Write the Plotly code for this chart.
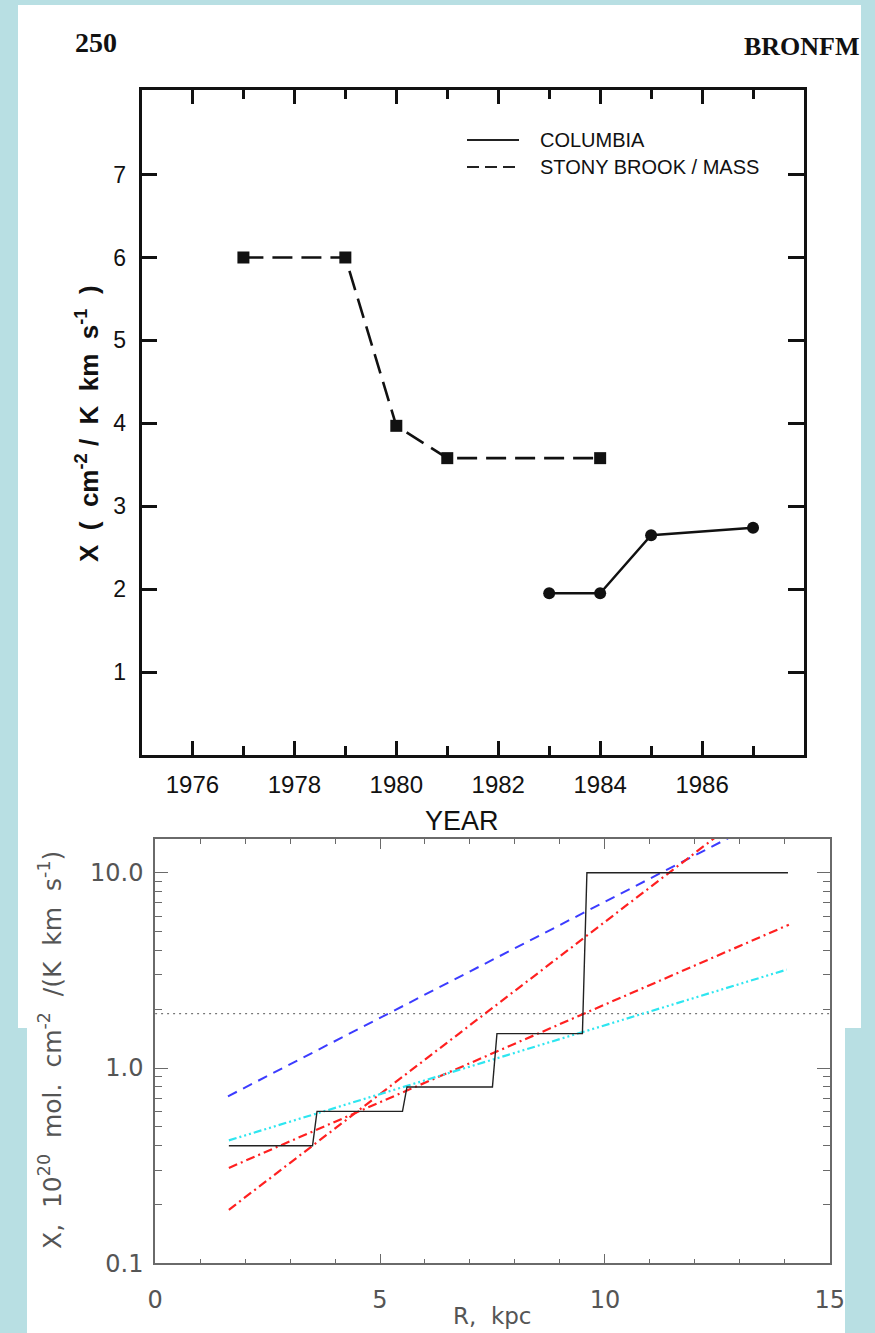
import plotly.graph_objects as go

W, H = 875, 1333


def px(x):
    return x / W


def py(y):
    return 1 - y / H


# ---------------- top panel data (X factor vs year) ----------------
STONY_YEARS = [1977, 1979, 1980, 1981, 1984]
STONY_X = [6.0, 6.0, 3.97, 3.58, 3.58]
COLUMBIA_YEARS = [1983, 1984, 1985, 1987]
COLUMBIA_X = [1.95, 1.95, 2.65, 2.74]
YEAR_TICKS = [1976, 1978, 1980, 1982, 1984, 1986]
YEAR_MINOR = [1977, 1979, 1981, 1983, 1985, 1987]
TOP_Y_TICKS = [1, 2, 3, 4, 5, 6, 7]

# ---------------- bottom panel data (X vs galactocentric R) ----------------
STEP_R = [1.64, 3.5, 3.6, 5.5, 5.6, 7.5, 7.6, 9.5, 9.6, 14.07]
STEP_X = [0.4, 0.4, 0.6, 0.6, 0.8, 0.8, 1.5, 1.5, 10.0, 10.0]
BLUE_R = [1.62, 14.05]
BLUE_X = [0.716, 21.5]
RED_STEEP_R = [1.64, 14.05]
RED_STEEP_X = [0.188, 29.0]
RED_SHALLOW_R = [1.64, 14.09]
RED_SHALLOW_X = [0.308, 5.42]
CYAN_R = [1.64, 14.04]
CYAN_X = [0.426, 3.19]
REF_R = [0, 15]
REF_X = [1.9, 1.9]

BG = "#b8dfe3"
TOPFONT = "Liberation Sans"
BOTFONT = "DejaVu Sans"
GRAY = "#555555"

fig = go.Figure()

# top panel traces
fig.add_trace(go.Scatter(
    x=STONY_YEARS, y=STONY_X, mode="lines+markers", xaxis="x", yaxis="y",
    line=dict(color="#111111", width=2.6, dash="20px,9px"),
    marker=dict(symbol="square", size=12, color="#111111"),
    showlegend=False))
fig.add_trace(go.Scatter(
    x=COLUMBIA_YEARS, y=COLUMBIA_X, mode="lines+markers", xaxis="x", yaxis="y",
    line=dict(color="#111111", width=2.4),
    marker=dict(symbol="circle", size=12, color="#111111"),
    showlegend=False))

# bottom panel traces
fig.add_trace(go.Scatter(
    x=REF_R, y=REF_X, mode="lines", xaxis="x2", yaxis="y2",
    line=dict(color="#777777", width=1.3, dash="2px,4px"), showlegend=False))
fig.add_trace(go.Scatter(
    x=BLUE_R, y=BLUE_X, mode="lines", xaxis="x2", yaxis="y2",
    line=dict(color="#3c3cff", width=2, dash="10px,7px"), showlegend=False))
fig.add_trace(go.Scatter(
    x=RED_STEEP_R, y=RED_STEEP_X, mode="lines", xaxis="x2", yaxis="y2",
    line=dict(color="#ff2020", width=2.2, dash="9px,4px,2px,4px"), showlegend=False))
fig.add_trace(go.Scatter(
    x=RED_SHALLOW_R, y=RED_SHALLOW_X, mode="lines", xaxis="x2", yaxis="y2",
    line=dict(color="#ff2020", width=2.2, dash="9px,4px,2px,4px"), showlegend=False))
fig.add_trace(go.Scatter(
    x=CYAN_R, y=CYAN_X, mode="lines", xaxis="x2", yaxis="y2",
    line=dict(color="#2ee6f0", width=2.2, dash="8px,3px,2px,3px,2px,3px,2px,3px"),
    showlegend=False))
fig.add_trace(go.Scatter(
    x=STEP_R, y=STEP_X, mode="lines", xaxis="x2", yaxis="y2",
    line=dict(color="#222222", width=1.4), showlegend=False))

top_axis_common = dict(
    showline=True, linecolor="#111111", linewidth=2.5, mirror="ticks",
    ticks="inside", tickcolor="#111111", tickwidth=2.5,
    showgrid=False, zeroline=False, automargin=False,
)

bot_axis_common = dict(
    showline=True, linecolor="#6a6a6a", linewidth=1.6, mirror="ticks",
    ticks="inside", tickcolor="#6a6a6a", tickwidth=1.4,
    showgrid=False, zeroline=False, automargin=False,
    tickfont=dict(family=BOTFONT, size=24, color=GRAY),
)

fig.update_layout(
    width=W, height=H, autosize=False,
    margin=dict(l=0, r=0, t=0, b=0, pad=0, autoexpand=False),
    paper_bgcolor=BG, plot_bgcolor="white",
    showlegend=False,
    xaxis=dict(
        domain=[px(141.5), px(804)], range=[1975, 1988], anchor="y",
        tickmode="array", tickvals=YEAR_TICKS, ticklen=14,
        tickfont=dict(family=TOPFONT, size=24, color="#111111"),
        ticklabelstandoff=6,
        minor=dict(tickmode="array", tickvals=YEAR_MINOR, ticks="inside",
                   ticklen=9, tickwidth=2.5, tickcolor="#111111"),
        **top_axis_common),
    yaxis=dict(
        domain=[py(755), py(90)], range=[0, 8.02], anchor="x",
        tickmode="array", tickvals=TOP_Y_TICKS, ticklen=16,
        tickfont=dict(family=TOPFONT, size=23, color="#111111"),
        ticklabelstandoff=8,
        **top_axis_common),
    xaxis2=dict(
        domain=[px(155.1), px(829.8)], range=[0, 15], anchor="y2",
        tickmode="linear", tick0=0, dtick=5, ticklen=10,
        ticklabelstandoff=14,
        minor=dict(dtick=1, ticks="inside", ticklen=5, tickwidth=1.4,
                   tickcolor="#6a6a6a"),
        **bot_axis_common),
    yaxis2=dict(
        type="log", domain=[py(1263.3), py(839)], range=[-1, 1.1726],
        anchor="x2", dtick=1, tickformat=".1f", ticklen=13,
        ticklabelstandoff=5,
        minor=dict(dtick="D1", ticks="inside", ticklen=7, tickwidth=1.4,
                   tickcolor="#6a6a6a"),
        **bot_axis_common),
)

# white page panels over the light-blue background
fig.add_shape(type="rect", xref="paper", yref="paper",
              x0=px(18), x1=px(861), y0=py(1028), y1=py(5),
              fillcolor="white", line=dict(width=0), layer="below")
fig.add_shape(type="rect", xref="paper", yref="paper",
              x0=px(27), x1=px(845), y0=py(1333), y1=py(832),
              fillcolor="white", line=dict(width=0), layer="below")

# legend of the top panel
fig.add_shape(type="line", xref="paper", yref="paper",
              x0=px(467), x1=px(519), y0=py(140), y1=py(140),
              line=dict(color="#222222", width=2.2))
fig.add_shape(type="line", xref="paper", yref="paper",
              x0=px(467), x1=px(519), y0=py(167), y1=py(167),
              line=dict(color="#222222", width=2.2, dash="12px,6px"))

annotations = [
    dict(text="COLUMBIA", x=px(538), y=py(140), xanchor="left", yanchor="middle",
         font=dict(family=TOPFONT, size=20, color="#111111")),
    dict(text="STONY BROOK / MASS", x=px(538), y=py(167), xanchor="left",
         yanchor="middle", font=dict(family=TOPFONT, size=20, color="#111111")),
    dict(text="YEAR", x=px(462), y=py(821), xanchor="center", yanchor="middle",
         font=dict(family=TOPFONT, size=27, color="#111111")),
    dict(text="X  (  cm<sup>-2</sup> /  K  km  s<sup>-1</sup>  )", x=px(88), y=py(424),
         xanchor="center", yanchor="middle", textangle=-90,
         font=dict(family=TOPFONT, size=26, color="#111111", weight="bold")),
    dict(text="250", x=px(96), y=py(43), xanchor="center", yanchor="middle",
         font=dict(family="Liberation Serif", size=28, color="#111111", weight="bold")),
    dict(text="BRONFM", x=px(862), y=py(47), xanchor="right", yanchor="middle",
         font=dict(family="Liberation Serif", size=26, color="#111111", weight="bold")),
    dict(text="X,  10<sup>20</sup>  mol.  cm<sup>-2</sup>  /(K  km  s<sup>-1</sup>)",
         x=px(50), y=py(1050), xanchor="center", yanchor="middle", textangle=-90,
         font=dict(family=BOTFONT, size=25, color=GRAY)),
    dict(text="R,  kpc", x=px(492), y=py(1331), xanchor="center", yanchor="bottom",
         font=dict(family=BOTFONT, size=23, color=GRAY)),
]
for a in annotations:
    a.update(xref="paper", yref="paper", showarrow=False)
fig.update_layout(annotations=annotations)

fig.write_html("out.html")
